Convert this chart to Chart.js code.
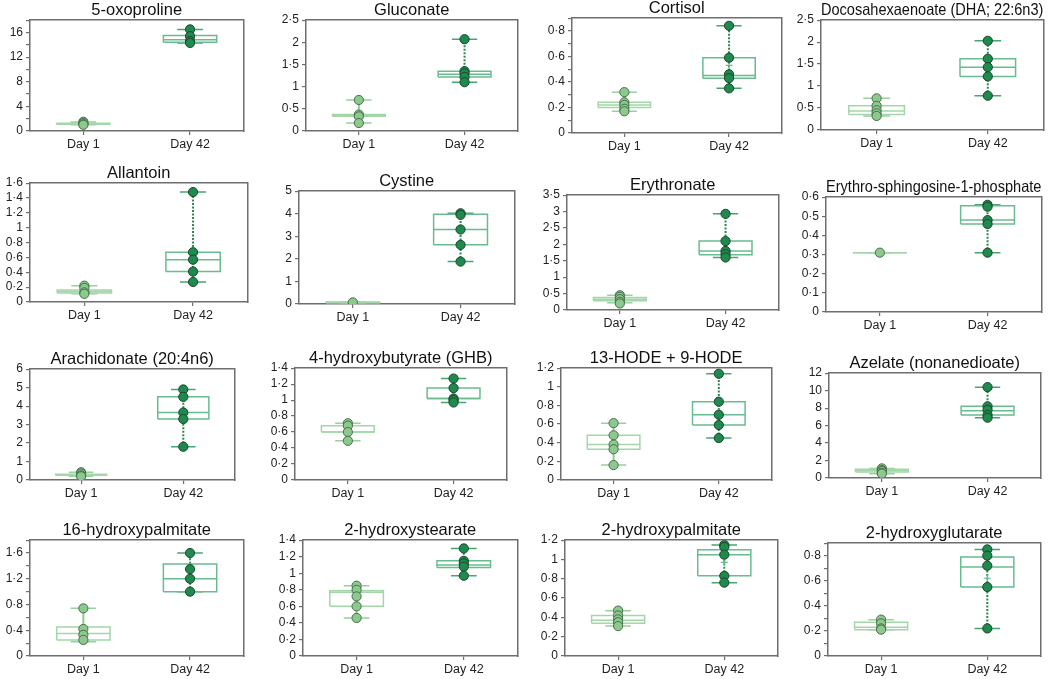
<!DOCTYPE html>
<html>
<head>
<meta charset="utf-8">
<script src="https://cdn.jsdelivr.net/npm/chart.js@4"></script>
<style>
  html, body { margin: 0; padding: 0; background: #ffffff; }
  body { width: 1050px; height: 679px; position: relative; overflow: hidden; }
  canvas { position: absolute; }
</style>
</head>
<body>
<script>
// ---------- DATA ----------
const categories = ['Day 1', 'Day 42'];
const titles = ['5-oxoproline', 'Gluconate', 'Cortisol', 'Docosahexaenoate (DHA; 22:6n3)',
  'Allantoin', 'Cystine', 'Erythronate', 'Erythro-sphingosine-1-phosphate',
  'Arachidonate (20:4n6)', '4-hydroxybutyrate (GHB)', '13-HODE + 9-HODE', 'Azelate (nonanedioate)',
  '16-hydroxypalmitate', '2-hydroxystearate', '2-hydroxypalmitate', '2-hydroxyglutarate'];
const yMax = [18, 2.5, 0.9, 2.5, 1.6, 5, 3.5, 0.6, 6, 1.4, 1.2, 12, 1.8, 1.4, 1.2, 0.9];
const yStep = [2, 0.5, 0.1, 0.5, 0.2, 1, 0.5, 0.1, 1, 0.2, 0.2, 2, 0.2, 0.2, 0.2, 0.1];
const yLabelEvery = [2, 1, 2, 1, 1, 1, 1, 1, 1, 1, 1, 1, 2, 1, 1, 2];

const day1Points = [
  [1.5, 1.3, 1.1, 1.0], [0.7, 0.37, 0.33, 0.18], [0.32, 0.24, 0.22, 0.19, 0.17], [0.72, 0.55, 0.45, 0.38, 0.32],
  [0.22, 0.19, 0.13, 0.11], [0.07], [0.45, 0.4, 0.33, 0.25, 0.2], [0.31],
  [0.42, 0.35, 0.25, 0.2], [0.71, 0.68, 0.6, 0.49], [0.61, 0.48, 0.38, 0.33, 0.16], [1.1, 0.9, 0.8, 0.6, 0.5],
  [0.74, 0.42, 0.33, 0.25], [0.85, 0.8, 0.72, 0.6, 0.46], [0.47, 0.42, 0.38, 0.35, 0.31], [0.29, 0.26, 0.22, 0.21]
];
// [min, q1, median, q3, max]
const day1Box = [
  [1.0, 1.1, 1.15, 1.25, 1.45], [0.18, 0.33, 0.35, 0.37, 0.7], [0.17, 0.2, 0.22, 0.24, 0.32], [0.32, 0.35, 0.43, 0.55, 0.72],
  [0.11, 0.12, 0.14, 0.16, 0.22], [0.05, 0.06, 0.07, 0.09, 0.1], [0.22, 0.28, 0.33, 0.38, 0.45], [0.31, 0.31, 0.31, 0.31, 0.31],
  [0.2, 0.26, 0.28, 0.31, 0.42], [0.49, 0.6, 0.6, 0.68, 0.71], [0.16, 0.33, 0.38, 0.48, 0.61], [0.5, 0.7, 0.85, 1.0, 1.1],
  [0.22, 0.25, 0.35, 0.45, 0.74], [0.46, 0.6, 0.77, 0.79, 0.85], [0.31, 0.34, 0.37, 0.42, 0.47], [0.21, 0.21, 0.23, 0.27, 0.29]
];
const day42Points = [
  [16.5, 15.4, 14.6, 14.3], [2.07, 1.35, 1.3, 1.22, 1.1], [0.84, 0.59, 0.46, 0.43, 0.35], [2.03, 1.62, 1.43, 1.22, 0.78],
  [1.48, 0.67, 0.57, 0.41, 0.27], [4.02, 3.95, 3.3, 2.62, 1.88], [2.93, 2.1, 1.8, 1.7, 1.6], [0.56, 0.55, 0.48, 0.46, 0.31],
  [4.9, 4.5, 3.65, 3.3, 1.8], [1.27, 1.15, 1.02, 1.0, 0.97], [1.14, 0.84, 0.7, 0.59, 0.45], [10.4, 8.2, 7.8, 7.2, 6.9],
  [1.6, 1.35, 1.2, 1.0], [1.3, 1.15, 1.12, 1.08, 0.97], [1.15, 1.13, 1.05, 0.83, 0.76], [0.85, 0.8, 0.72, 0.55, 0.22]
];
const day42Box = [
  [14.3, 14.4, 14.8, 15.5, 16.5], [1.1, 1.22, 1.28, 1.35, 2.07], [0.35, 0.43, 0.45, 0.59, 0.84], [0.78, 1.22, 1.43, 1.62, 2.03],
  [0.27, 0.41, 0.57, 0.67, 1.48], [1.88, 2.62, 3.3, 3.98, 4.02], [1.6, 1.68, 1.8, 2.1, 2.93], [0.31, 0.46, 0.48, 0.555, 0.56],
  [1.8, 3.3, 3.65, 4.5, 4.9], [0.97, 1.02, 1.02, 1.15, 1.27], [0.45, 0.59, 0.7, 0.84, 1.14], [6.9, 7.2, 7.7, 8.2, 10.4],
  [1.0, 1.0, 1.2, 1.43, 1.6], [0.97, 1.07, 1.1, 1.15, 1.3], [0.76, 0.83, 1.05, 1.1, 1.15], [0.22, 0.55, 0.71, 0.79, 0.85]
];
const day42Mean = [null, null, 0.53, null, null, null, null, null, null, null, 0.73, null, null, null, 0.97, 0.62];

// ---------- LAYOUT (plot rectangles: left, top, right, bottom) ----------
const plotRects = [
  [30, 20, 246, 131], [306, 20, 520, 131], [572, 18, 784, 133], [821, 20, 1046, 130],
  [30, 183, 250, 302], [299, 191, 517, 304], [567, 195, 781, 310], [826, 197, 1044, 312],
  [30, 369, 237, 480], [295, 368, 509, 480], [561, 368, 774, 480], [829, 373, 1043, 478],
  [30, 540, 246, 656], [303, 540, 520, 656], [565, 540, 780, 656], [828, 543, 1043, 656]
];
const YW = 30, TH = 22, XH = 26, PADR = 3;
const FONT = 'Arial, "Liberation Sans", Helvetica, sans-serif';
const AXIS_COLOR = '#6e6e6e';

const style1 = { box: '#a3d6a8', whisker: '#8fcc95', cap: '#98d09d', fill: '#8dc98f', edge: '#456f4a', dash: [] };
const style42 = { box: '#68bc8f', whisker: '#2e8753', cap: '#45a670', fill: '#20894d', edge: '#17472b', dash: [2, 1.5] };

const BOX_HW = 0.25, CAP_HW = 0.12;

function fmt(v) {
  const r = Math.round(v * 1000) / 1000;
  return String(r).replace('.', '\u00B7');
}

function groupDatasets(c, pts, bx, mean, st) {
  const [mn, q1, md, q3, mx] = bx;
  const ds = [];
  ds.push({ data: pts.map(v => ({ x: c, y: v })), showLine: false, pointRadius: 4.6,
    pointBackgroundColor: st.fill, pointBorderColor: st.edge, pointBorderWidth: 1 });
  if (mean !== null && mean !== undefined) {
    ds.push({ data: [{ x: c, y: mean }], showLine: false, pointStyle: 'cross', pointRadius: 3.5,
      pointBorderColor: st.box, pointBorderWidth: 1.2 });
  }
  ds.push({ data: [{ x: c - BOX_HW, y: md }, { x: c + BOX_HW, y: md }], showLine: true, pointRadius: 0,
    borderColor: st.box, borderWidth: 1.5 });
  ds.push({ data: [{ x: c - BOX_HW, y: q1 }, { x: c + BOX_HW, y: q1 }, { x: c + BOX_HW, y: q3 },
    { x: c - BOX_HW, y: q3 }, { x: c - BOX_HW, y: q1 }], showLine: true, pointRadius: 0,
    borderColor: st.box, borderWidth: 1.5, borderJoinStyle: 'miter' });
  ds.push({ data: [{ x: c - CAP_HW, y: mn }, { x: c + CAP_HW, y: mn }, { x: c, y: null },
    { x: c - CAP_HW, y: mx }, { x: c + CAP_HW, y: mx }], showLine: true, spanGaps: false, pointRadius: 0,
    borderColor: st.cap, borderWidth: 1.5 });
  ds.push({ data: [{ x: c, y: mn }, { x: c, y: mx }], showLine: true, pointRadius: 0,
    borderColor: st.whisker, borderWidth: 2, borderDash: st.dash });
  return ds;
}

for (let i = 0; i < titles.length; i++) {
  const [L, T, R, B] = plotRects[i];
  const cv = document.createElement('canvas');
  const w = (R - L) + YW + PADR, h = (B - T) + TH + XH;
  cv.width = w; cv.height = h;
  cv.style.left = (L - YW) + 'px';
  cv.style.top = (T - TH) + 'px';
  cv.style.width = w + 'px'; cv.style.height = h + 'px';
  document.body.appendChild(cv);

  const datasets = [
    ...groupDatasets(0.5, day1Points[i], day1Box[i], null, style1),
    ...groupDatasets(1.5, day42Points[i], day42Box[i], day42Mean[i], style42)
  ];
  const step = yStep[i], every = yLabelEvery[i];

  new Chart(cv, {
    type: 'scatter',
    data: { datasets },
    options: {
      responsive: false, animation: false, devicePixelRatio: 1,
      layout: { padding: { left: 0, right: PADR, top: 0, bottom: 0 } },
      plugins: {
        legend: { display: false }, tooltip: { enabled: false },
        title: { display: true, text: titles[i], fullSize: false, color: '#111',
          font: { family: FONT, size: 16.5, weight: 'normal', lineHeight: 1.1 },
          padding: { top: 3, bottom: 1 } }
      },
      scales: {
        x: {
          type: 'linear', min: 0, max: 2, position: 'bottom',
          afterBuildTicks: s => { s.ticks = [{ value: 0.5 }, { value: 1.5 }]; },
          afterFit: s => { s.height = XH; },
          ticks: { callback: (v) => categories[v < 1 ? 0 : 1], color: '#222', padding: 2,
            font: { family: FONT, size: 12.5 }, maxRotation: 0, autoSkip: false },
          grid: { drawOnChartArea: false, drawTicks: true, tickLength: 4, color: AXIS_COLOR, lineWidth: 1.2 },
          border: { display: true, color: AXIS_COLOR, width: 1.5 }
        },
        y: {
          type: 'linear', min: 0, max: yMax[i], position: 'left',
          afterFit: s => { s.width = YW; },
          ticks: { stepSize: step, autoSkip: false, color: '#222', padding: 3,
            font: { family: FONT, size: 12 },
            callback: (v) => {
              const k = Math.round(v / step);
              return (k % every === 0) ? fmt(v) : '';
            } },
          grid: { drawOnChartArea: false, drawTicks: true, tickLength: 4, color: AXIS_COLOR, lineWidth: 1.2 },
          border: { display: true, color: AXIS_COLOR, width: 1.5 }
        },
        x2: {
          type: 'linear', position: 'top', min: 0, max: 1,
          afterFit: s => { s.height = 0; },
          ticks: { display: false }, grid: { display: false, drawTicks: false },
          border: { display: true, color: AXIS_COLOR, width: 1.5 }
        },
        y2: {
          type: 'linear', position: 'right', min: 0, max: 1,
          afterFit: s => { s.width = 0; },
          ticks: { display: false }, grid: { display: false, drawTicks: false },
          border: { display: true, color: AXIS_COLOR, width: 1.5 }
        }
      }
    }
  });
}
</script>
</body>
</html>
